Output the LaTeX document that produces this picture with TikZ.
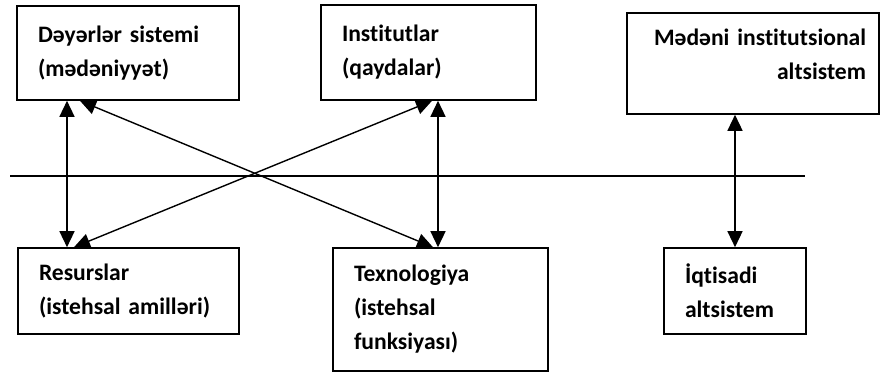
\documentclass[tikz,border=0pt]{standalone}
\usepackage{fontspec}
\setmainfont{Carlito}[Ligatures=NoCommon]
\usepackage{tikz}
\usetikzlibrary{arrows.meta}
\def\boxsep{10.5pt}

\begin{document}
\begin{tikzpicture}[x=0.5pt,y=-0.5pt,line width=0.7pt,>={Triangle[length=8pt,width=7.5pt]}]
	\tikzstyle{box}=[draw,line width=0.8pt,rectangle,inner xsep=\boxsep,inner ysep=0pt,align=left,font=\fontsize{11.8}{17}\selectfont\bfseries]
	\tikzstyle{link}=[<->]
	\useasboundingbox (0,0) rectangle (881,373);

	% Draw the upper boxes
	\node[box,text width=90pt,minimum height=47pt] (dey) at (128,53) {Dəyərlər sistemi\\(mədəniyyət)};
	\node[box,text width=86.5pt,minimum height=47.5pt] (inst) at (428.5,52.5) {Institutlar\\(qaydalar)};
	\node[box,inner xsep=6.5pt,text width=113pt,minimum height=50.5pt,text depth=26pt,align=right] (med) at (753,63.5) {Mədəni institutsional\\altsistem};

	% Draw the lower boxes
	\node[box,text width=89.5pt,minimum height=43pt] (res) at (128.5,291) {Resurslar\\(istehsal amilləri)};
	\node[box,text width=86.5pt,minimum height=61.5pt] (tex) at (440.5,309.5) {Texnologiya\\(istehsal\\funksiyası)};
	\node[box,text width=50pt,minimum height=43pt] (iqt) at (735,291) {İqtisadi\\altsistem};

	% The dividing line
	\draw (10,176) -- (805,176);

	% Connect the upper boxes with the lower ones
	\draw[link] ([xshift=-30.5pt]dey.south) -- ([xshift=-30.5pt]dey.south |- res.north);
	\draw[link] ([xshift=4.75pt]inst.south) -- ([xshift=4.75pt]inst.south |- tex.north);
	\draw[link] (iqt.north |- med.south) -- (iqt.north);
	\draw[link] ([xshift=-24pt]dey.south) -- ([xshift=-3.75pt]tex.north);
	\draw[link] ([xshift=1.75pt]inst.south) -- ([xshift=-27.25pt]res.north);
\end{tikzpicture}
\end{document}
